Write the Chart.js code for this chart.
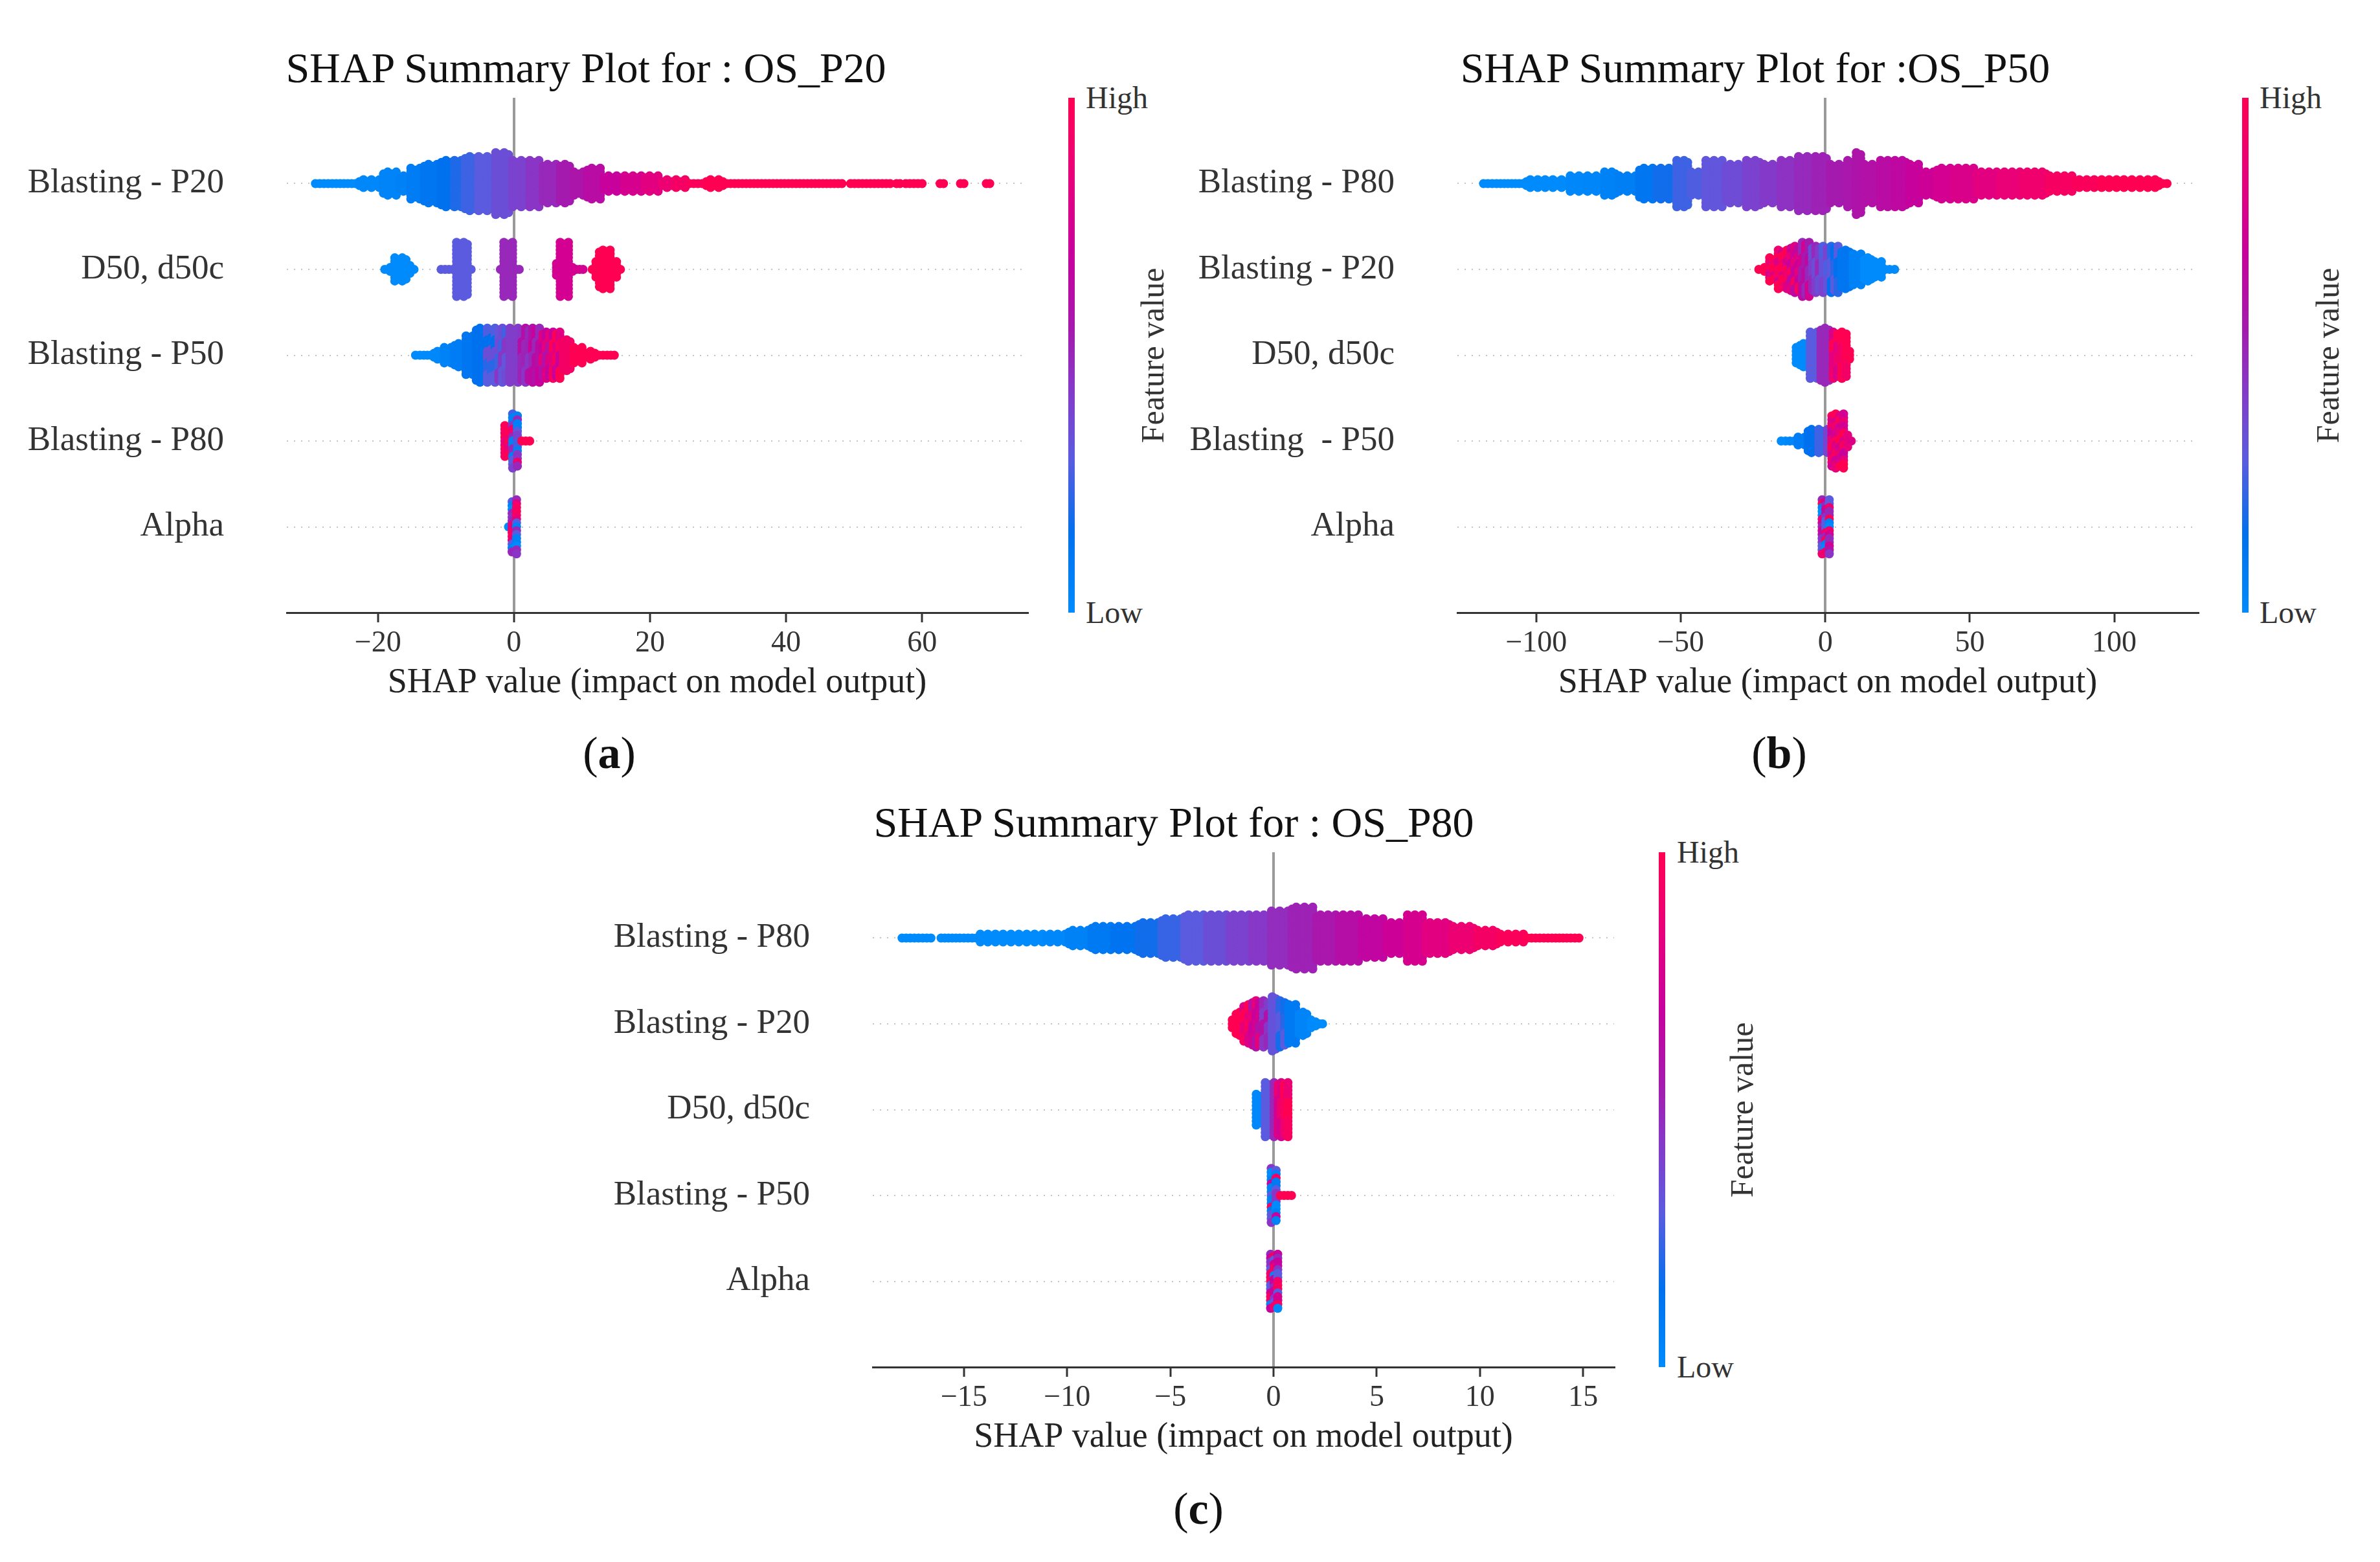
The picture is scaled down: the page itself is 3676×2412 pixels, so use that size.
<!DOCTYPE html>
<html lang="en">
<head>
<meta charset="UTF-8">
<title>SHAP Summary Plots</title>
<script src="https://cdn.jsdelivr.net/npm/chart.js"></script>
<style>
    body {
        margin: 0;
        width: 3676px;
        height: 2412px;
        position: relative;
        overflow: hidden;
        background: #fff;
        font-family: "Liberation Serif", "Times New Roman", serif;
    }
    .box { position: absolute; }
    .ttl {
        position: absolute;
        font-size: 66px;
        line-height: 1;
        white-space: pre;
        transform: translateX(-50%);
        color: #111;
    }
    .cbar { position: absolute; width: 10px; }
    .cb-lab {
        position: absolute;
        font-size: 48px;
        line-height: 1;
        color: #333;
    }
    .cb-name {
        position: absolute;
        font-size: 50px;
        line-height: 1;
        white-space: nowrap;
        transform: translate(-50%, -50%) rotate(-90deg);
        color: #333;
    }
    .tag {
        position: absolute;
        font-size: 70px;
        line-height: 1;
        transform: translateX(-50%);
        color: #111;
    }
</style>
</head>
<body>

<div class="ttl" style="left:905px; top:72px;">SHAP Summary Plot for : OS_P20</div>
<div class="ttl" style="left:2711px; top:72px;">SHAP Summary Plot for :OS_P50</div>
<div class="ttl" style="left:1813px; top:1237px;">SHAP Summary Plot for : OS_P80</div>

<div class="box" style="left:3px; top:131px; width:1594px; height:961px;"><canvas id="chartA"></canvas></div>
<div class="box" style="left:1811px; top:131px; width:1594px; height:961px;"><canvas id="chartB"></canvas></div>
<div class="box" style="left:908px; top:1296px; width:1595px; height:961px;"><canvas id="chartC"></canvas></div>

<!-- colour bars -->
<div class="cbar" id="cbA" style="left:1650px; top:151px; height:795px;"></div>
<div class="cb-lab" style="left:1677px; top:127px;">High</div>
<div class="cb-lab" style="left:1677px; top:922px;">Low</div>
<div class="cb-name" style="left:1780px; top:549px;">Feature value</div>

<div class="cbar" id="cbB" style="left:3463px; top:151px; height:795px;"></div>
<div class="cb-lab" style="left:3490px; top:127px;">High</div>
<div class="cb-lab" style="left:3490px; top:922px;">Low</div>
<div class="cb-name" style="left:3595px; top:549px;">Feature value</div>

<div class="cbar" id="cbC" style="left:2562px; top:1316px; height:795px;"></div>
<div class="cb-lab" style="left:2590px; top:1292px;">High</div>
<div class="cb-lab" style="left:2590px; top:2087px;">Low</div>
<div class="cb-name" style="left:2690px; top:1714px;">Feature value</div>

<div class="tag" style="left:941px; top:1128px;">(<b>a</b>)</div>
<div class="tag" style="left:2748px; top:1128px;">(<b>b</b>)</div>
<div class="tag" style="left:1851px; top:2295px;">(<b>c</b>)</div>

<script>
    // ---- panel (a): OS_P20 ----
    const featA = ['Blasting - P20', 'D50, d50c', 'Blasting - P50', 'Blasting - P80', 'Alpha'];
    const ticksA = [-20, 0, 20, 40, 60];
    const rangeA = [-33.4, 75.5];

    // each feature: bin edges on the SHAP axis, swarm density per bin (1 = full row),
    // feature value per bin (0 = low, 1 = high; a list = colours read top to bottom)
    const aP20Edges = [-29.5, -27, -23, -19.5, -17, -15.5, -13.5, -11, -9, -7.5, -5.5, -3, -0.5, 2, 4, 6.5, 8.5, 10.5, 13, 16, 19, 21.5, 23.5, 25.5, 28, 31, 35, 48.5, 49.2, 55.6, 56, 57, 57.3, 60.3, 62.4, 63.4, 65.4, 66.4, 69.2, 70.2];
    const aP20Dens = [0.12, 0.18, 0.28, 0.45, 0.36, 0.6, 0.75, 0.78, 0.84, 0.93, 0.9, 1.0, 0.81, 0.81, 0.69, 0.69, 0.54, 0.58, 0.39, 0.39, 0.4, 0.3, 0.34, 0.18, 0.24, 0.21, 0.17, 0, 0.13, 0, 0.12, 0, 0.13, 0, 0.12, 0, 0.12, 0, 0.12];
    const aP20Tone = [0, 0, 0.02, 0.04, 0.06, 0.08, 0.12, 0.15, 0.2, 0.25, 0.3, 0.35, 0.4, 0.45, 0.5, 0.55, 0.58, 0.63, 0.7, 0.76, 0.82, 0.88, 0.93, 0.97, 1, 1, 1, 1, 1, 1, 1, 1, 1, 1, 1, 1, 1, 1, 1];

    const aD50Edges = [-19.4, -18.6, -17.8, -15.6, -15.0, -14.4, -11.0, -8.7, -6.6, -6.0, -2.2, -1.8, 0.1, 1.0, 6.0, 6.5, 8.3, 8.9, 10.4, 11.2, 11.8, 12.3, 14.4, 15.3, 16.0];
    const aD50Dens = [0.12, 0.3, 0.49, 0.3, 0.12, 0, 0.12, 0.88, 0.12, 0, 0.12, 0.95, 0.12, 0, 0.35, 0.96, 0.3, 0.12, 0, 0.12, 0.35, 0.7, 0.35, 0.12];
    const aD50Tone = [0, 0, 0, 0, 0, 0, 0.3, 0.3, 0.3, 0, 0.5, 0.5, 0.5, 0, 0.75, 0.75, 0.75, 0.75, 0, 1, 1, 1, 1, 1];

    const aP50Edges = [-14.8, -13.5, -12, -10.5, -9, -7.3, -5.8, -4.2, -2.5, -0.9, 0.9, 2.5, 4, 5.5, 7, 8.5, 10.3, 12.2, 14, 15];
    const aP50Dens = [0.12, 0.17, 0.26, 0.39, 0.54, 0.7, 0.9, 0.93, 0.93, 0.9, 0.9, 0.9, 0.81, 0.84, 0.57, 0.42, 0.24, 0.13, 0.1];
    const aP50Tone = [0, 0, 0.02, 0.05, 0.08, 0.12, 0.15, [0.28, 0.15, 0.35, 0.22, 0.3], [0.36, 0.25, 0.45, 0.32], 0.42, [0.52, 0.45, 0.62, 0.5], [0.6, 0.7, 0.5, 0.65], [0.68, 0.85, 0.6, 0.8], [0.82, 0.95, 0.7, 1], 0.93, 1, 1, 1, 1];

    const aP80Edges = [-1.6, -0.55, 0.85, 2.6];
    const aP80Dens = [0.6, 0.94, 0.13];
    const aP80Tone = [[1, 0.9, 1, 0.85, 1, 0.95], [0.25, 0.05, 0.45, 0.9, 0.5, 0.05, 0.5, 0.05, 0.3, 0.4], 1];

    const aAlphaEdges = [-1.0, -0.6, 0.7];
    const aAlphaDens = [0.12, 0.94];
    const aAlphaTone = [0, [0.95, 0.85, 0.3, 0.05, 0.5, 0.3, 0.05, 0.0, 0.5, 0.45, 0.5, 0.85, 0.95]];

    // ---- panel (b): OS_P50 ----
    const featB = ['Blasting - P80', 'Blasting - P20', 'D50, d50c', 'Blasting  - P50', 'Alpha'];
    const ticksB = [-100, -50, 0, 50, 100];
    const rangeB = [-127.3, 129.0];

    const bP80Edges = [-119, -113, -104, -95, -89, -83, -77, -72, -65, -59, -52, -47, -42, -35, -28, -22, -16, -10, -4, 1, 7, 10, 13, 14, 18.5, 23.5, 28.5, 33, 38, 44, 52, 60, 68, 77, 86, 95, 104, 111, 116, 119];
    const bP80Dens = [0.12, 0.18, 0.27, 0.28, 0.39, 0.36, 0.45, 0.36, 0.66, 0.57, 0.78, 0.51, 0.82, 0.75, 0.81, 0.69, 0.87, 0.93, 0.92, 0.72, 0.8, 0.99, 0.75, 0.69, 0.81, 0.81, 0.72, 0.51, 0.6, 0.57, 0.54, 0.45, 0.45, 0.39, 0.33, 0.33, 0.3, 0.33, 0.15];
    const bP80Tone = [0, 0, 0, 0, 0.02, 0.03, 0.05, 0.07, 0.12, 0.18, 0.25, 0.28, 0.32, 0.36, 0.4, 0.43, 0.46, 0.49, 0.52, 0.55, 0.57, 0.59, 0.6, 0.61, 0.63, 0.66, 0.69, 0.72, 0.75, 0.78, 0.82, 0.86, 0.9, 0.94, 0.97, 1, 1, 1, 1];

    const bP20Edges = [-24, -22, -20, -17, -12.5, -8.5, -5, -1.5, 1.5, 5, 9, 13, 16.5, 20, 23, 25];
    const bP20Dens = [0.14, 0.3, 0.5, 0.68, 0.8, 0.92, 0.8, 0.8, 0.87, 0.72, 0.64, 0.55, 0.38, 0.2, 0.12];
    const bP20Tone = [1, 1, [1, 0.9, 1, 0.8, 1], [1, 0.8, 1, 0.95, 0.75, 1, 0.9], [0.85, 0.7, 0.95, 0.65, 0.8, 0.72], [0.55, 0.65, 0.5, 0.75], [0.42, 0.5, 0.35], [0.33, 0.4, 0.28], [0.22, 0.3, 0.15], 0.12, 0.05, 0, 0, 0, 0];

    const bD50Edges = [-10.8, -9.3, -5.8, -2.2, 2.0, 5.0, 8.0, 8.8];
    const bD50Dens = [0.38, 0.54, 0.8, 0.94, 0.86, 0.84, 0.3];
    const bD50Tone = [0, 0, 0.3, 0.5, [0.82, 0.9, 0.78, 1], [1, 0.92, 1], 1];

    const bP50Edges = [-16, -13, -10, -6.5, -3, 0, 1.6, 7.0, 8.5, 9.5];
    const bP50Dens = [0.12, 0.2, 0.33, 0.45, 0.52, 0.55, 0.95, 0.4, 0.12];
    const bP50Tone = [0, 0.03, 0.08, 0.15, 0.25, 0.4, [0.9, 0.75, 1, 0.8, 0.95, 0.7, 0.85, 1, 0.75], 0.85, 0.8];

    const bAlphaEdges = [-1.7, 2.0];
    const bAlphaDens = [0.93];
    const bAlphaTone = [[0.5, 1, 0.05, 0.0, 0.9, 0.75, 0.5, 0.75, 0.6, 0.45, 0.3, 0.3, 0.9]];

    // ---- panel (c): OS_P80 ----
    const featC = ['Blasting - P80', 'Blasting - P20', 'D50, d50c', 'Blasting - P50', 'Alpha'];
    const ticksC = [-15, -10, -5, 0, 5, 10, 15];
    const rangeC = [-19.42, 16.5];

    const cP80Edges = [-18.1, -16.5, -16.2, -15.3, -14.3, -13.2, -11.1, -10.0, -8.9, -7.8, -6.6, -5.5, -4.4, -3.3, -2.2, -1.1, -0.2, 0.8, 2.0, 3.1, 4.2, 5.4, 6.4, 7.3, 8.6, 9.8, 10.9, 12.2, 13.4, 14.3, 14.9];
    const cP80Dens = [0.14, 0, 0.15, 0.2, 0.24, 0.3, 0.33, 0.36, 0.48, 0.54, 0.58, 0.69, 0.78, 0.84, 0.84, 0.78, 0.93, 0.99, 0.87, 0.87, 0.75, 0.66, 0.78, 0.63, 0.51, 0.36, 0.24, 0.21, 0.18, 0.12];
    const cP80Tone = [0, 0, 0, 0, 0, 0, 0.02, 0.05, 0.1, 0.13, 0.18, 0.24, 0.3, 0.35, 0.4, 0.44, 0.48, 0.52, 0.57, 0.62, 0.67, 0.72, 0.76, 0.82, 0.88, 0.93, 0.97, 1, 1, 1];

    const cP20Edges = [-2.1, -1.9, -1.55, -1.1, -0.6, -0.15, 0.2, 0.65, 1.15, 1.7, 2.15, 2.45];
    const cP20Dens = [0.3, 0.5, 0.68, 0.78, 0.86, 0.93, 0.84, 0.72, 0.54, 0.3, 0.12];
    const cP20Tone = [1, 1, [1, 0.85, 0.95, 0.8], [0.75, 0.6, 0.85, 0.7], [0.5, 0.42, 0.6, 0.45], 0.33, [0.22, 0.3, 0.18], 0.1, 0.04, 0, 0];

    const cD50Edges = [-0.95, -0.5, -0.1, 0.15, 0.45, 0.78];
    const cD50Dens = [0.63, 0.93, 0.9, 0.93, 0.93];
    const cD50Tone = [0.02, 0.3, 0.5, [0.8, 0.88, 0.75], [0.95, 0.88, 1]];

    const cP50Edges = [-0.23, 0.24, 0.96];
    const cP50Dens = [0.96, 0.13];
    const cP50Tone = [[0.45, 0, 0.05, 0.7, 0.05, 0.3, 0.05, 0.95, 0.1, 0.3, 0.45], 1];

    const cAlphaEdges = [-0.23, 0.29];
    const cAlphaDens = [0.97];
    const cAlphaTone = [[0.5, 0.7, 0.45, 0.3, 0.9, 0.95, 0.3, 0.75, 0.95, 0.02, 0.7]];

    // colour ramp low -> high (shap red_blue look)
    const ramp = [
        [0.00, [0, 139, 252]],
        [0.15, [0, 113, 238]],
        [0.30, [91, 91, 223]],
        [0.45, [138, 53, 197]],
        [0.55, [165, 26, 174]],
        [0.70, [200, 0, 156]],
        [0.85, [232, 0, 122]],
        [1.00, [255, 0, 82]]
    ];

    function rampColour(t) {
        t = Math.max(0, Math.min(1, t));
        for (let i = 1; i < ramp.length; i++) {
            if (t <= ramp[i][0]) {
                const [t0, c0] = ramp[i - 1], [t1, c1] = ramp[i];
                const f = (t - t0) / (t1 - t0);
                const c = c0.map((v, k) => Math.round(v + (c1[k] - v) * f));
                return 'rgb(' + c.join(',') + ')';
            }
        }
        return 'rgb(255,0,82)';
    }

    const gradCss = 'linear-gradient(to top, ' + ramp.map(s => rampColour(s[0]) + ' ' + (s[0] * 100) + '%').join(', ') + ')';
    ['cbA', 'cbB', 'cbC'].forEach(id => { document.getElementById(id).style.background = gradCss; });

    // lay the dots of one feature out as a beeswarm, column by column inside each bin
    function swarm(row, edges, dens, tone, span, pts, cols) {
        const pitchX = span / 190, pitchY = 0.045;
        let k = 0;
        for (let b = 0; b < dens.length; b++) {
            const lo = edges[b], hi = edges[b + 1], d = dens[b];
            if (!d) continue;
            const n = Math.max(1, Math.round((hi - lo) / pitchX));
            const half = Math.max(0, d * 0.42 - 0.053);
            const m = Math.floor(half / pitchY + 1e-6);
            for (let c = 0; c < n; c++, k++) {
                const x = lo + (c + 0.5) * (hi - lo) / n;
                const shift = (k % 2 && m > 0) ? pitchY / 2 : 0;
                const jTop = shift ? m - 1 : m;
                for (let j = jTop; j >= -m; j--) {
                    const off = j * pitchY + shift;
                    let t = tone[b];
                    if (Array.isArray(t)) {
                        const frac = half > 0 ? (half - off) / (2 * half) : 0.5;
                        const idx = Math.min(t.length - 1, Math.max(0, Math.floor(frac * t.length)));
                        t = t[(idx + (k * 5) % t.length) % t.length];
                    }
                    pts.push({ x: x, y: row + off });
                    cols.push(rampColour(t));
                }
            }
        }
    }

    Chart.defaults.font.family = '"Liberation Serif", "Times New Roman", serif';
    Chart.defaults.color = '#333';

    function makeChart(id, feats, ticks, range, rows) {
        const pts = [], cols = [];
        const span = range[1] - range[0];
        rows.forEach((r, i) => swarm(4 - i, r[0], r[1], r[2], span, pts, cols));

        return new Chart(document.getElementById(id), {
            type: 'scatter',
            data: {
                datasets: [{
                    data: pts,
                    backgroundColor: cols,
                    pointRadius: 7,
                    pointHoverRadius: 7,
                    pointBorderWidth: 0,
                    borderWidth: 0
                }]
            },
            options: {
                responsive: true,
                maintainAspectRatio: false,
                animation: false,
                events: [],
                layout: { padding: { left: 0, top: 20, right: 10, bottom: 5 } },
                plugins: { legend: { display: false }, tooltip: { enabled: false } },
                scales: {
                    x: {
                        type: 'linear',
                        min: range[0],
                        max: range[1],
                        afterBuildTicks: s => { s.ticks = ticks.map(v => ({ value: v })); },
                        afterFit: s => { s.height = 141; s.paddingLeft = 0; s.paddingRight = 0; },
                        ticks: {
                            font: { size: 46 },
                            color: '#333',
                            padding: 5,
                            maxRotation: 0,
                            autoSkip: false,
                            callback: v => v < 0 ? '\u2212' + (-v) : String(v)
                        },
                        grid: {
                            color: c => (c.tick && c.tick.value === 0) ? '#9a9a9a' : 'rgba(0,0,0,0)',
                            lineWidth: 4,
                            drawTicks: true,
                            tickLength: 15,
                            tickColor: '#333',
                            tickWidth: 3
                        },
                        border: { display: true, color: '#333', width: 3 },
                        title: {
                            display: true,
                            text: 'SHAP value (impact on model output)',
                            font: { size: 54 },
                            color: '#222',
                            padding: { top: 0, bottom: 0 }
                        }
                    },
                    y: {
                        type: 'linear',
                        min: -1,
                        max: 5,
                        afterBuildTicks: s => { s.ticks = [0, 1, 2, 3, 4].map(v => ({ value: v })); },
                        afterFit: s => { s.width = 440; s.paddingTop = 0; s.paddingBottom = 0; },
                        ticks: {
                            font: { size: 53 },
                            color: '#333',
                            padding: 97,
                            autoSkip: false,
                            callback: v => feats[4 - v]
                        },
                        grid: { color: '#c4c4c4', lineWidth: 2, drawTicks: false },
                        border: { display: false, dash: [2, 9] }
                    }
                }
            }
        });
    }

    makeChart('chartA', featA, ticksA, rangeA, [
        [aP20Edges, aP20Dens, aP20Tone],
        [aD50Edges, aD50Dens, aD50Tone],
        [aP50Edges, aP50Dens, aP50Tone],
        [aP80Edges, aP80Dens, aP80Tone],
        [aAlphaEdges, aAlphaDens, aAlphaTone]
    ]);

    makeChart('chartB', featB, ticksB, rangeB, [
        [bP80Edges, bP80Dens, bP80Tone],
        [bP20Edges, bP20Dens, bP20Tone],
        [bD50Edges, bD50Dens, bD50Tone],
        [bP50Edges, bP50Dens, bP50Tone],
        [bAlphaEdges, bAlphaDens, bAlphaTone]
    ]);

    makeChart('chartC', featC, ticksC, rangeC, [
        [cP80Edges, cP80Dens, cP80Tone],
        [cP20Edges, cP20Dens, cP20Tone],
        [cD50Edges, cD50Dens, cD50Tone],
        [cP50Edges, cP50Dens, cP50Tone],
        [cAlphaEdges, cAlphaDens, cAlphaTone]
    ]);
</script>
</body>
</html>
